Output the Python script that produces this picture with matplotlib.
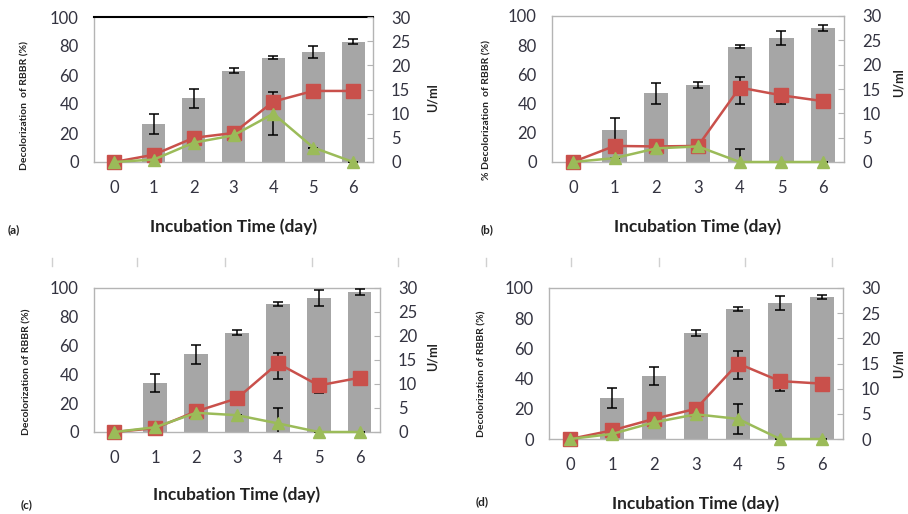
import matplotlib
matplotlib.use('Agg')
import matplotlib.pyplot as plt
from matplotlib.lines import Line2D

plt.rcParams['font.family'] = ['Lato', 'DejaVu Sans']

W, H = 908, 514
days = [0, 1, 2, 3, 4, 5, 6]

# (a)
decol_a = [0, 26, 44, 63, 72, 76, 83]
decol_err_a = [0, 7, 6.5, 1.5, 1, 4, 1.5]
red_a = [0, 1.5, 5, 6, 12.5, 14.7, 14.7]
red_lo_a = [0, 0, 0, 0, 0, 1.5, 1.5]
red_hi_a = [0, 0, 0, 0, 0, 0, 0]
green_a = [0, 0.5, 4, 5.5, 10, 3, 0]
green_err_a = [0, 0, 0, 0, 4.4, 0, 0]

# (b)
decol_b = [0, 22, 47, 53, 79, 85, 92]
decol_err_b = [0, 8, 7, 2, 1, 5, 2]
red_b = [0, 3.3, 3.2, 3.3, 15.3, 13.7, 12.5]
red_lo_b = [0, 0, 0, 0, 3.3, 1.7, 1.4]
red_hi_b = [0, 0, 0, 0, 2.1, 0, 0]
green_b = [0, 0.8, 2.8, 3.2, 0, 0, 0]
green_err_b = [0, 0, 0, 0, 2.7, 0, 0]

# (c)
decol_c = [0, 34, 54, 69, 89, 93, 97]
decol_err_c = [0, 6.5, 6.5, 1.5, 1.5, 5.5, 2]
red_c = [0, 0.8, 4.3, 7, 14.3, 9.7, 11.3]
red_lo_c = [0, 0, 0, 0, 3.2, 1.6, 1.1]
red_hi_c = [0, 0, 0, 0, 2.2, 0, 0]
green_c = [0, 1, 4, 3.5, 1.8, 0, 0]
green_err_c = [0, 0, 0, 0, 3.3, 0, 0]

# (d)
decol_d = [0, 27, 42, 70, 86, 90, 94]
decol_err_d = [0, 6.5, 6, 2, 1.5, 4.5, 1.5]
red_d = [0, 1.7, 4, 6, 15, 11.5, 11]
red_lo_d = [0, 0, 0, 0, 3, 1.9, 0]
red_hi_d = [0, 0, 0, 0, 2.4, 0, 0]
green_d = [0, 1, 3.3, 4.9, 4, 0, 0]
green_err_d = [0, 0, 0, 0, 3, 0, 0]

left_ticks = [0, 20, 40, 60, 80, 100]
right_ticks = [0, 5, 10, 15, 20, 25, 30]

BAR = '#a6a6a6'
RED = '#c9504b'
GREEN = '#9bbb59'
SPINE = '#b4b4b4'
TXT = '#333340'

fig = plt.figure(figsize=(W / 100, H / 100), dpi=100)


def px_rect(x0, y0, x1, y1):
    return [x0 / W, 1 - y1 / H, (x1 - x0) / W, (y1 - y0) / H]


def panel(rect, decol, decol_err, red, red_lo, red_hi, green, green_err,
          ylab, letter, ylab_pos, ulab_pos, xlab_y, letter_pos, top_black=False):
    ax = fig.add_axes(px_rect(*rect))
    ax.bar(days, decol, width=0.58, color=BAR, zorder=2)
    ax.errorbar(days, decol, yerr=decol_err, fmt='none', ecolor='black',
                elinewidth=1.1, capsize=3.5, capthick=1.1, zorder=3)
    ax.set_xlim(-0.5, 6.5)
    ax.set_ylim(0, 100)
    ax.set_yticks(left_ticks)
    ax.set_xticks(days)
    ax.tick_params(axis='both', length=0, labelsize=12, colors=TXT)
    ax.tick_params(axis='x', pad=13)
    ax.tick_params(axis='y', pad=11)
    for s in ax.spines.values():
        s.set_color(SPINE)
        s.set_linewidth(1.0)
    if top_black:
        ax.spines['top'].set_color('black')
        ax.spines['top'].set_linewidth(1.5)

    ax2 = ax.twinx()
    ax2.set_ylim(0, 30)
    ax2.set_yticks(right_ticks)
    ax2.tick_params(axis='y', direction='in', length=4, color=SPINE,
                    labelsize=12, labelcolor=TXT, pad=13)
    for s in ax2.spines.values():
        s.set_visible(False)
    ax2.errorbar(days, red, yerr=[red_lo, red_hi], fmt='none', ecolor='black',
                 elinewidth=1.1, capsize=3.5, capthick=1.1, zorder=2)
    ax2.errorbar(days, green, yerr=green_err, fmt='none', ecolor='black',
                 elinewidth=1.1, capsize=3.5, capthick=1.1, zorder=2)
    ax2.plot(days, red, color=RED, lw=1.8, marker='s', ms=9.5,
             mec=RED, mfc=RED, zorder=4, clip_on=False)
    ax2.plot(days, green, color=GREEN, lw=1.8, marker='^', ms=8.5,
             mec=GREEN, mfc=GREEN, zorder=5, clip_on=False)

    cx = (rect[0] + rect[2]) / 2
    fig.text(cx / W, 1 - xlab_y / H, 'Incubation Time (day)', ha='center',
             va='center', fontsize=12.5, fontweight='bold', color='#222222')
    fig.text(ylab_pos[0] / W, 1 - ylab_pos[1] / H, ylab, rotation=90,
             ha='center', va='center', fontsize=7.5, fontweight='bold',
             color='#222222')
    fig.text(ulab_pos[0] / W, 1 - ulab_pos[1] / H, 'U/ml', rotation=90,
             ha='center', va='center', fontsize=9, fontweight='bold',
             color='#222222')
    fig.text(letter_pos[0] / W, 1 - letter_pos[1] / H, letter, ha='left',
             va='center', fontsize=8.5, fontweight='bold', color='#222222')


panel((94, 17, 373, 162), decol_a, decol_err_a, red_a, red_lo_a, red_hi_a,
      green_a, green_err_a, 'Decolorization  of RBBR (%)', '(a)', (25, 106),
      (433, 98), 227, (8, 230), top_black=True)
panel((552, 16, 844, 162), decol_b, decol_err_b, red_b, red_lo_b, red_hi_b,
      green_b, green_err_b, '% Decolorization  of RBBR (%)', '(b)', (487, 110),
      (899, 83), 227, (481, 230))
panel((94, 288, 380, 432), decol_c, decol_err_c, red_c, red_lo_c, red_hi_c,
      green_c, green_err_c, 'Decolorization of RBBR (%)', '(c)', (27, 372),
      (433, 357), 495, (21, 505))
panel((549, 288, 843, 439), decol_d, decol_err_d, red_d, red_lo_d, red_hi_d,
      green_d, green_err_d, 'Decolorization of RBBR (%)', '(d)', (482, 374),
      (899, 364), 504, (476, 502))

# faint tick marks at the top of the lower row
for xs in ([52, 137, 225, 312, 398], [486, 571, 659, 745, 832]):
    for x in xs:
        fig.add_artist(Line2D([x / W, x / W], [1 - 258 / H, 1 - 266 / H],
                              color='#d0d0d0', lw=1))

fig.savefig('out.png', dpi=100)
